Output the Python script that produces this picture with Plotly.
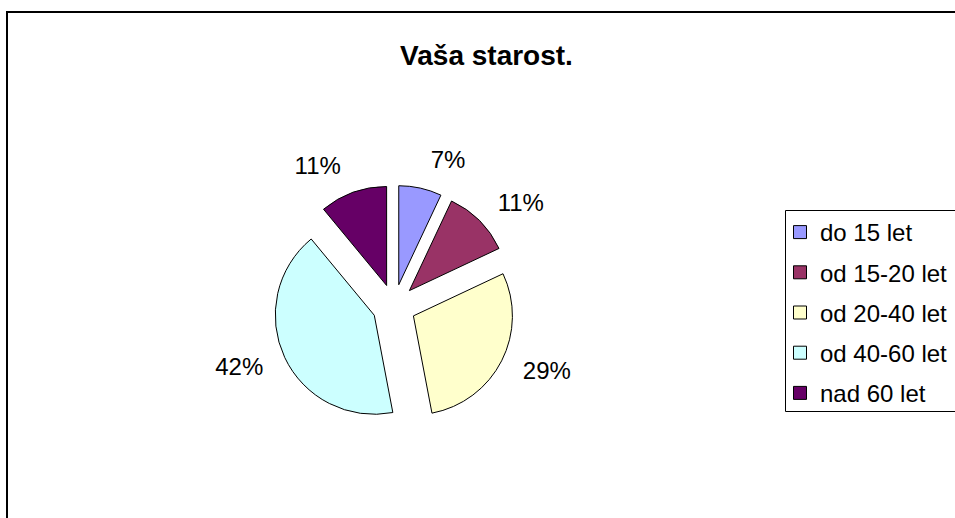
import plotly.graph_objects as go

# Data
categories = ["do 15 let", "od 15-20 let", "od 20-40 let", "od 40-60 let", "nad 60 let"]
values = [7, 11, 29, 42, 11]
colors = ["#9999FF", "#993366", "#FFFFCC", "#CCFFFF", "#660066"]
title_text = "Vaša starost."

W, H = 955, 518
FONT = "Liberation Sans, Arial, sans-serif"
CX, CY = 394, 306          # pie centre (px)
HALF = 120.8               # half-size of pie domain (px)
HALF_LBL = 137.0           # half-size of label pie domain (px)


def dom(half):
    return dict(x=[(CX - half) / W, (CX + half) / W],
                y=[1 - (CY + half) / H, 1 - (CY - half) / H])


fig = go.Figure()

# visible pie
fig.add_trace(go.Pie(
    labels=categories,
    values=values,
    sort=False,
    direction="clockwise",
    rotation=0,
    pull=[0.22] * len(values),
    marker=dict(colors=colors, line=dict(color="black", width=1)),
    textinfo="none",
    domain=dom(HALF),
    showlegend=False,
    hoverinfo="label+percent",
))

# transparent companion pie carrying the outside percentage labels
fig.add_trace(go.Pie(
    labels=categories,
    values=values,
    sort=False,
    direction="clockwise",
    rotation=0,
    pull=[0.22] * len(values),
    marker=dict(colors=["rgba(0,0,0,0)"] * len(values), line=dict(width=0)),
    texttemplate="%{percent:.0%}",
    textposition="outside",
    textfont=dict(family=FONT, size=24, color="black"),
    domain=dom(HALF_LBL),
    showlegend=False,
    hoverinfo="skip",
))

# Legend entries (one per category, separate groups for spacing)
for name, col in zip(categories, colors):
    fig.add_trace(go.Scatter(
        x=[None], y=[None], mode="markers", name=name, legendgroup=name,
        marker=dict(symbol="square", size=13, color=col, line=dict(color="black", width=1)),
        showlegend=True,
    ))

fig.update_layout(
    width=W, height=H,
    margin=dict(l=0, r=0, t=0, b=0),
    paper_bgcolor="white",
    plot_bgcolor="white",
    font=dict(family=FONT, color="black"),
    title=dict(
        text="<b>" + title_text + "</b>",
        x=486.5 / W, xanchor="center",
        y=1 - 55 / H, yanchor="middle",
        font=dict(family=FONT, size=28, color="black"),
    ),
    xaxis=dict(visible=False),
    yaxis=dict(visible=False),
    legend=dict(
        x=780 / W, xanchor="left",
        y=1 - 210 / H, yanchor="top",
        borderwidth=0,
        bgcolor="rgba(0,0,0,0)",
        font=dict(family=FONT, size=24, color="black"),
        tracegroupgap=6,
        itemwidth=30,
    ),
    shapes=[
        # chart-area border (cut off at right/bottom as in the reference)
        dict(type="rect", xref="paper", yref="paper",
             x0=7 / W, x1=1.05, y0=-0.05, y1=1 - 12 / H,
             line=dict(color="black", width=2),
             fillcolor="rgba(0,0,0,0)"),
        # legend frame, running off the right edge
        dict(type="rect", xref="paper", yref="paper",
             x0=785.5 / W, x1=1.05, y0=1 - 411.5 / H, y1=1 - 210.5 / H,
             line=dict(color="black", width=1),
             fillcolor="white", layer="below"),
    ],
)

fig.write_html("out.html", config={"displayModeBar": False},
               post_script="document.body.style.margin='0';")
